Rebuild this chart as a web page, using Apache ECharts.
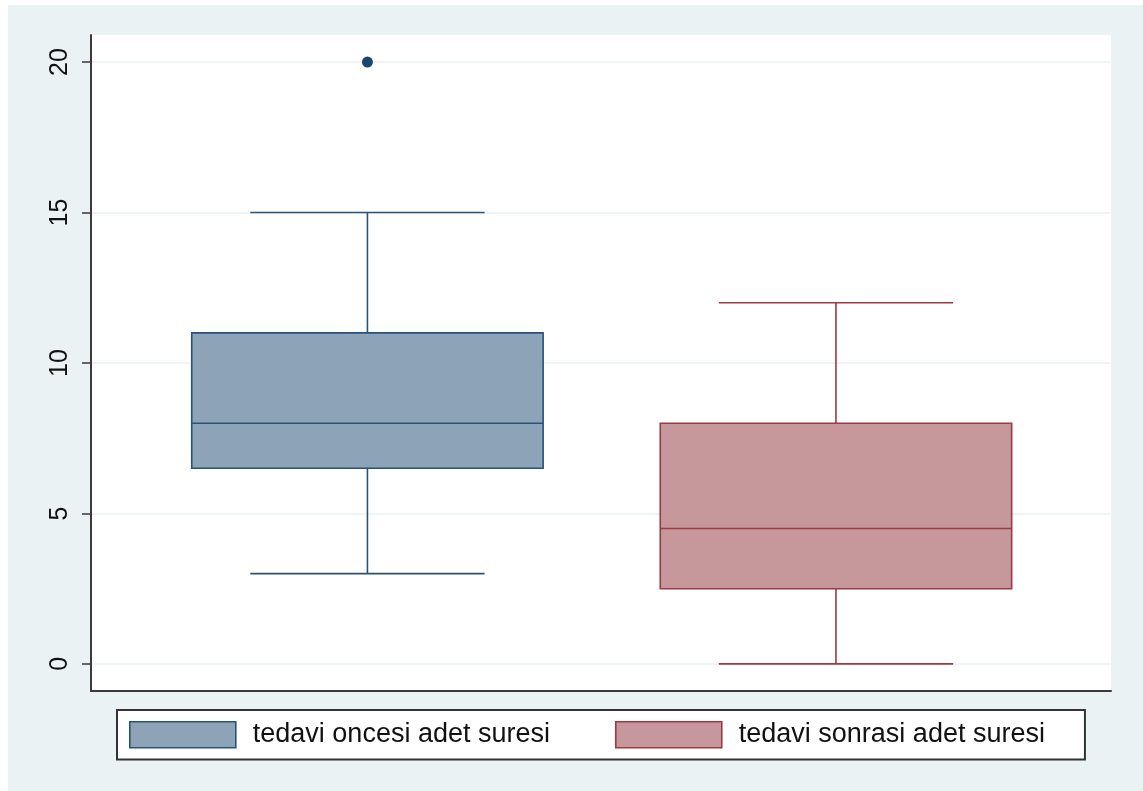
<!DOCTYPE html>
<html>
<head>
<meta charset="utf-8">
<title>tedavi oncesi / sonrasi adet suresi</title>
<script src="https://cdn.jsdelivr.net/npm/echarts@6/dist/echarts.min.js"></script>
<style>
  html, body { margin: 0; padding: 0; background: #ffffff; }
  #chart { position: absolute; left: 8px; top: 5px; width: 1135px; height: 786px; background: #eaf2f3; }
</style>
</head>
<body>
<div id="chart"></div>
<script>
// Group names (legend)
const groups = ['tedavi oncesi adet suresi', 'tedavi sonrasi adet suresi'];
// Box position on the x scale for each group
const positions = [1, 2];
// Box statistics: [lower whisker, Q1, median, Q3, upper whisker]
const beforeStats = [3, 6.5, 8, 11, 15];
const afterStats = [0, 2.5, 4.5, 8, 12];
// Outside values
const beforeOutliers = [20];
const afterOutliers = [];
// Y axis tick values
const yTicks = [0, 5, 10, 15, 20];

const FONT = '"Liberation Sans", Arial, Helvetica, sans-serif';
const BOX_WIDTH = 0.75;   // in x units
const CAP_WIDTH = 0.5;    // in x units

const palette = [
  { fill: '#8ca3b8', stroke: '#2a5279', marker: '#1a476f' },
  { fill: '#c7989b', stroke: '#9b3a41', marker: '#90353b' }
];

function boxRenderer(colors) {
  return function (params, api) {
    const x = api.value(0);
    const lo = api.coord([x, api.value(1)]);
    const q1 = api.coord([x, api.value(2)]);
    const med = api.coord([x, api.value(3)]);
    const q3 = api.coord([x, api.value(4)]);
    const hi = api.coord([x, api.value(5)]);
    const bw = api.size([BOX_WIDTH, 0])[0];
    const cw = api.size([CAP_WIDTH, 0])[0];
    const cx = lo[0];
    const lineStyle = { stroke: colors.stroke, lineWidth: 1.6, fill: null };
    return {
      type: 'group',
      children: [
        { type: 'line', shape: { x1: cx, y1: lo[1], x2: cx, y2: q1[1] }, style: lineStyle },
        { type: 'line', shape: { x1: cx, y1: q3[1], x2: cx, y2: hi[1] }, style: lineStyle },
        { type: 'line', shape: { x1: cx - cw / 2, y1: lo[1], x2: cx + cw / 2, y2: lo[1] }, style: lineStyle },
        { type: 'line', shape: { x1: cx - cw / 2, y1: hi[1], x2: cx + cw / 2, y2: hi[1] }, style: lineStyle },
        {
          type: 'rect',
          shape: { x: cx - bw / 2, y: q3[1], width: bw, height: q1[1] - q3[1] },
          style: { fill: colors.fill, stroke: colors.stroke, lineWidth: 1.6 }
        },
        { type: 'line', shape: { x1: cx - bw / 2, y1: med[1], x2: cx + bw / 2, y2: med[1] }, style: lineStyle }
      ]
    };
  };
}

const statsList = [beforeStats, afterStats];
const outlierList = [beforeOutliers, afterOutliers];

const series = [];
groups.forEach(function (name, i) {
  series.push({
    name: name,
    type: 'custom',
    renderItem: boxRenderer(palette[i]),
    itemStyle: { color: palette[i].fill, borderColor: palette[i].stroke },
    encode: { x: 0, y: [1, 2, 3, 4, 5] },
    data: [[positions[i]].concat(statsList[i])],
    z: 3
  });
  series.push({
    name: name,
    type: 'scatter',
    symbol: 'circle',
    symbolSize: 11,
    itemStyle: { color: palette[i].marker, opacity: 1 },
    data: outlierList[i].map(function (v) { return [positions[i], v]; }),
    z: 4
  });
});

const chart = echarts.init(document.getElementById('chart'));
chart.setOption({
  animation: false,
  textStyle: { fontFamily: FONT },
  grid: {
    left: 83, top: 30, right: 32, bottom: 100,
    show: true, backgroundColor: '#ffffff', borderWidth: 0
  },
  xAxis: {
    type: 'value',
    min: 0.41, max: 2.587,
    axisLine: { show: true, onZero: false, lineStyle: { color: '#3a3a3a', width: 2 } },
    axisTick: { show: false },
    axisLabel: { show: false },
    splitLine: { show: false }
  },
  yAxis: {
    type: 'value',
    min: -0.9, max: 20.9,
    axisLine: { show: true, onZero: false, lineStyle: { color: '#3a3a3a', width: 2 } },
    axisTick: { show: true, length: 9, customValues: yTicks, lineStyle: { color: '#3a3a3a', width: 1.5 } },
    axisLabel: {
      customValues: yTicks,
      rotate: 90,
      margin: 18,
      fontSize: 25,
      color: '#111111',
      fontFamily: FONT
    },
    splitLine: { show: true, lineStyle: { color: '#eaf2f3', width: 1.5 } }
  },
  legend: {
    left: 109, top: 705,
    orient: 'horizontal',
    backgroundColor: '#ffffff',
    borderColor: '#333333',
    borderWidth: 2,
    padding: [11, 40, 11, 12],
    itemWidth: 106,
    itemHeight: 26,
    itemGap: 65,
    selectedMode: false,
    textStyle: { fontSize: 27, color: '#111111', fontFamily: FONT, padding: [0, 0, 0, 12] },
    data: groups.map(function (name, i) {
      return {
        name: name,
        icon: 'rect',
        itemStyle: { color: palette[i].fill, borderColor: palette[i].stroke, borderWidth: 1.6 }
      };
    })
  },
  series: series
});
</script>
</body>
</html>
